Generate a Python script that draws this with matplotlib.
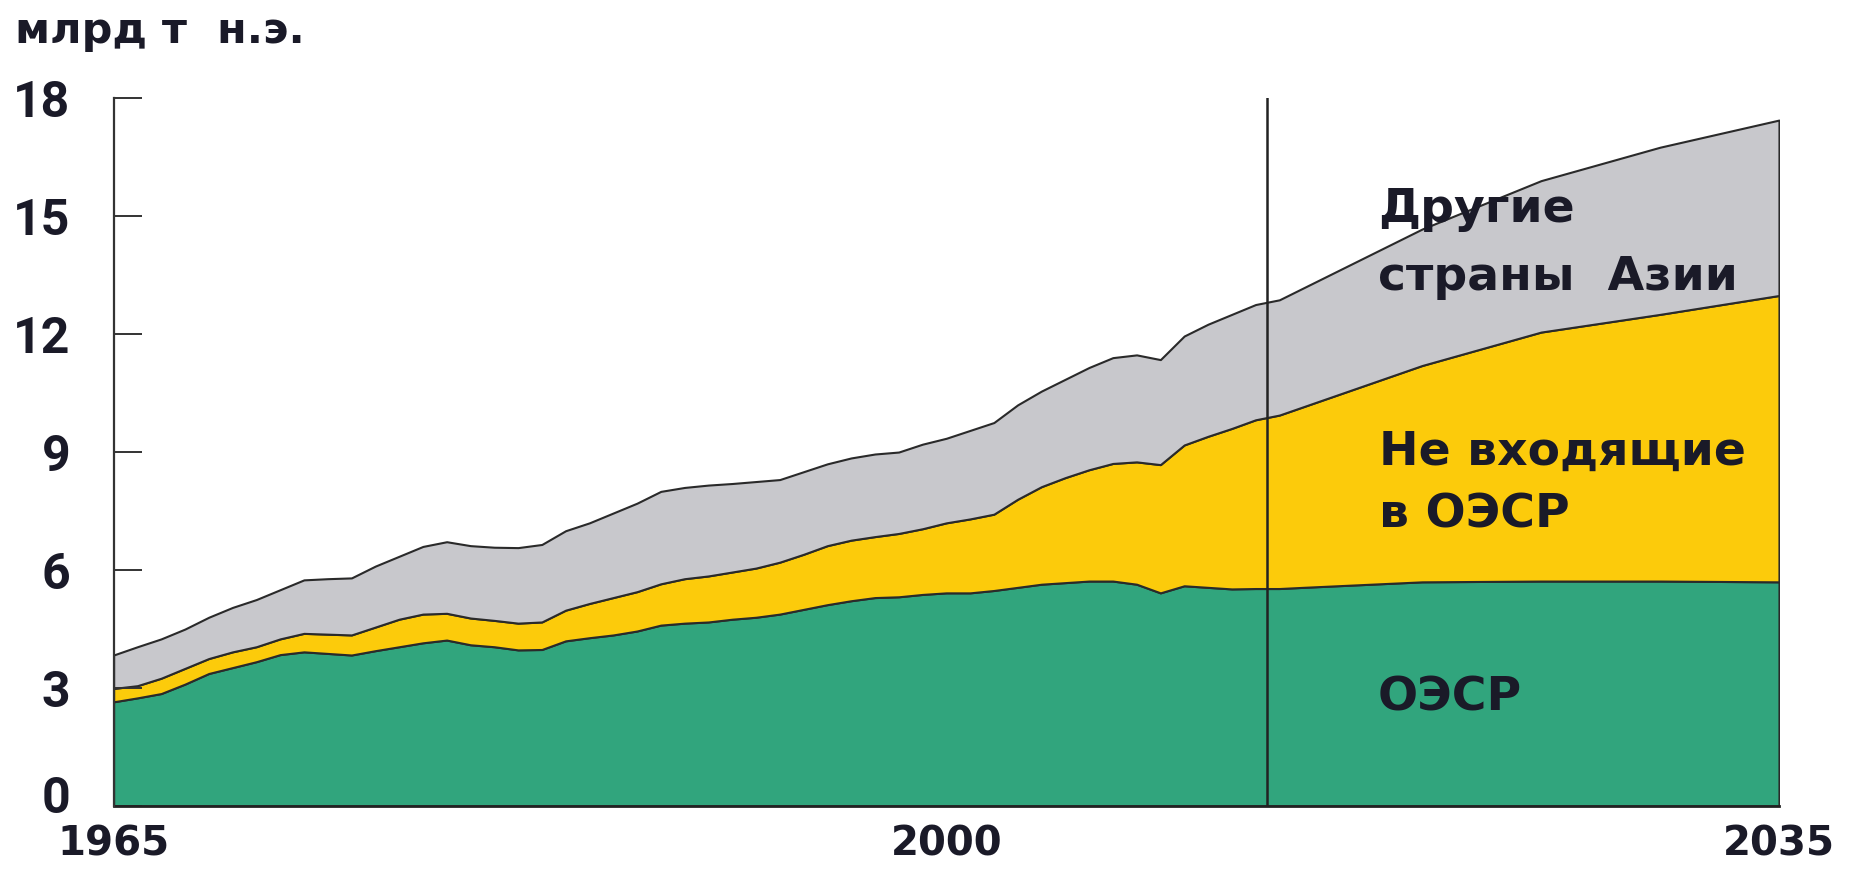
# Energy consumption by region, history and outlook to 2035 (stacked areas)

import numpy as np
import matplotlib
matplotlib.use("Agg")
import matplotlib.pyplot as plt
import matplotlib.transforms as mtransforms

# Years: yearly history up to 2014, then the outlook every 5 years
years = list(range(1965, 2015)) + [2015, 2020, 2025, 2030, 2035]

# Upper edge of the OECD area (bln toe)
oecd = [2.65, 2.75, 2.86, 3.10, 3.37, 3.52, 3.67, 3.85, 3.92, 3.88,
        3.84, 3.95, 4.05, 4.15, 4.22, 4.10, 4.05, 3.97, 3.98, 4.20,
        4.28, 4.35, 4.45, 4.60, 4.65, 4.68, 4.75, 4.80, 4.88, 5.00,
        5.12, 5.22, 5.30, 5.32, 5.38, 5.42, 5.42, 5.48, 5.56, 5.64,
        5.68, 5.72, 5.72, 5.64, 5.42, 5.60, 5.56, 5.52, 5.53, 5.53,
        5.56, 5.70, 5.72, 5.72, 5.70]

# Upper edge of OECD + non-OECD
oecd_non_oecd = [2.99, 3.06, 3.25, 3.50, 3.75, 3.92, 4.05, 4.25, 4.39, 4.37,
                 4.35, 4.55, 4.75, 4.88, 4.90, 4.78, 4.72, 4.65, 4.68, 4.98,
                 5.15, 5.30, 5.45, 5.65, 5.78, 5.85, 5.95, 6.05, 6.20, 6.40,
                 6.62, 6.76, 6.85, 6.93, 7.05, 7.20, 7.30, 7.42, 7.80, 8.12,
                 8.35, 8.55, 8.71, 8.75, 8.68, 9.18, 9.40, 9.60, 9.82, 9.94,
                 10.15, 11.20, 12.05, 12.50, 12.98]

# Upper edge of everything (incl. other Asian countries)
total = [3.84, 4.05, 4.25, 4.50, 4.80, 5.05, 5.25, 5.50, 5.75, 5.78,
         5.80, 6.10, 6.35, 6.60, 6.72, 6.62, 6.58, 6.57, 6.65, 7.00,
         7.20, 7.45, 7.70, 8.00, 8.10, 8.16, 8.20, 8.25, 8.30, 8.50,
         8.70, 8.85, 8.95, 9.00, 9.20, 9.35, 9.55, 9.75, 10.20, 10.55,
         10.85, 11.15, 11.40, 11.47, 11.35, 11.95, 12.25, 12.50, 12.75, 12.87,
         13.17, 14.67, 15.90, 16.75, 17.44]

divider_year = 2013.5   # history / outlook boundary

y_ticks = [0, 3, 6, 9, 12, 15, 18]
x_ticks = [1965, 2000, 2035]
unit_label = "млрд т  н.э."

# Area labels: (text, x position in years, baseline in bln toe)
labels = [("Другие", 2018.15, 14.86),
          ("страны  Азии", 2018.15, 13.12),
          ("Не входящие", 2018.2, 8.67),
          ("в ОЭСР", 2018.2, 7.07),
          ("ОЭСР", 2018.15, 2.44)]

colors = ["#31A57D", "#FCCB0B", "#C8C8CC"]
text_color = "#1a1a28"

# The stacked layers are the differences between the edges
edges = np.array([oecd, oecd_non_oecd, total])
layers = np.diff(np.vstack([np.zeros(len(years)), edges]), axis=0)

fig = plt.figure(figsize=(18.56, 8.73), dpi=100)
ax = fig.add_axes([0.0612, 0.0767, 0.8973, 0.811])

ax.stackplot(years, layers, colors=colors, edgecolor="#2a2a2a", linewidth=1.5)
ax.axvline(divider_year, color="#222222", linewidth=1.8, zorder=3)

ax.set_xlim(1965, 2035)
ax.set_ylim(0, 18)

# Axes styling
for side in ["top", "right"]:
    ax.spines[side].set_visible(False)
ax.spines["left"].set_color("#333333")
ax.spines["left"].set_linewidth(1.6)
ax.spines["bottom"].set_color("#222222")
ax.spines["bottom"].set_linewidth(2)
ax.spines["left"].set_zorder(4)

ax.set_yticks(y_ticks)
ax.set_yticklabels([str(v) for v in y_ticks], fontsize=36, fontweight="bold",
                   family="Roboto", color=text_color)
ax.tick_params(axis="y", direction="in", length=20, width=1.4, color="#333333", pad=31)
for lab in ax.get_yticklabels():
    lab.set_horizontalalignment("right")

# lift the "0" a little so it does not run into the "1965" below it
zero_label = ax.yaxis.get_major_ticks()[0].label1
zero_label.set_transform(zero_label.get_transform()
                         + mtransforms.ScaledTranslation(0, 8 / 72, fig.dpi_scale_trans))

ax.set_xticks(x_ticks)
ax.set_xticklabels([str(v) for v in x_ticks], fontsize=29, fontweight="bold",
                   family="DejaVu Sans", color=text_color)
ax.tick_params(axis="x", length=0, pad=13)

# Unit label in the top-left corner
fig.text(0.008, 0.951, unit_label, fontsize=31, fontweight="bold",
         family="DejaVu Sans", color=text_color, va="baseline")

# Area labels
for text, x, y in labels:
    ax.text(x, y, text, fontsize=34, fontweight="bold", family="DejaVu Sans",
            color=text_color, va="baseline", ha="left", zorder=5)

fig.savefig("out.png", dpi=100)
